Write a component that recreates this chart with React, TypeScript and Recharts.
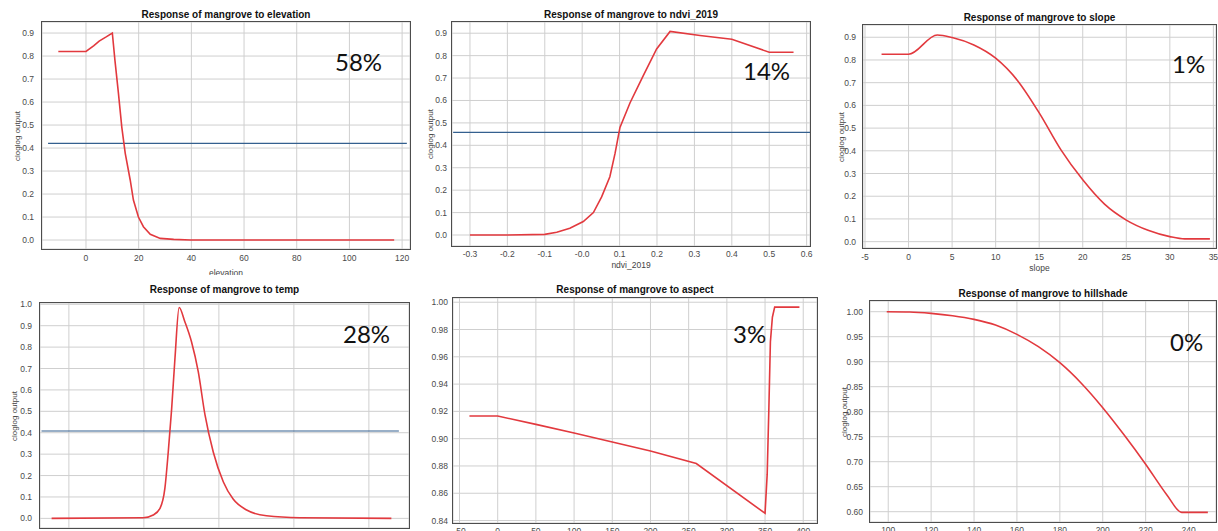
import React from 'react';
import {
  LineChart,
  Line,
  XAxis,
  YAxis,
  CartesianGrid,
  ReferenceLine,
} from 'recharts';

// Response curves (x = predictor, y = cloglog output)
const elevX = [-10.5, 0, 3, 5, 7.5, 10, 11, 12.3, 13.6, 14.9, 16.8, 18, 19.9, 21.8, 24.4, 28.2, 33.3, 39.6, 117];
const elevY = [0.82, 0.82, 0.845, 0.865, 0.882, 0.9, 0.78, 0.64, 0.49, 0.377, 0.26, 0.174, 0.1, 0.058, 0.025, 0.007, 0.003, 0, 0];

const ndviX = [-0.3, -0.2, -0.1, -0.068, -0.033, 0.003, 0.03, 0.052, 0.074, 0.088, 0.101, 0.128, 0.163, 0.199, 0.235, 0.315, 0.4, 0.5, 0.565];
const ndviY = [0, 0, 0.003, 0.012, 0.03, 0.06, 0.1, 0.17, 0.26, 0.365, 0.48, 0.59, 0.71, 0.83, 0.908, 0.89, 0.873, 0.815, 0.815];

const slopeX = [-3.1, 0, 3.3, 5, 7.5, 10, 12.5, 15, 17.5, 20, 22.5, 25, 27.5, 30, 31.7, 34.6];
const slopeY = [0.825, 0.825, 0.91, 0.899, 0.866, 0.808, 0.71, 0.567, 0.404, 0.272, 0.165, 0.095, 0.05, 0.022, 0.012, 0.012];

const tempX = [21.54, 23.98, 24.25, 24.43, 24.56, 24.65, 24.74, 24.83, 24.94, 25.09, 25.27, 25.45, 25.63, 25.85, 26.12, 26.38, 26.74, 27.27, 28.16, 30.6];
const tempY = [0, 0.003, 0.016, 0.047, 0.14, 0.31, 0.51, 0.75, 0.985, 0.92, 0.825, 0.685, 0.483, 0.31, 0.17, 0.09, 0.039, 0.012, 0.003, 0];

const aspectX = [-37, 0, 50, 100, 150, 200, 260, 350, 352.8, 355, 357, 359.6, 362.6, 395];
const aspectY = [0.9166, 0.9166, 0.9105, 0.9042, 0.8976, 0.891, 0.8818, 0.8453, 0.874, 0.9227, 0.971, 0.989, 0.9964, 0.9964];

const hillX = [99.3, 110, 120, 130, 140, 150, 160, 170, 180, 190, 200, 210, 220, 230, 236.8, 249];
const hillY = [1.0, 0.9995, 0.9967, 0.992, 0.9847, 0.9733, 0.9547, 0.93, 0.898, 0.857, 0.808, 0.7533, 0.695, 0.633, 0.5987, 0.5987];

// ticks
const tenthTicks = [0, 0.1, 0.2, 0.3, 0.4, 0.5, 0.6, 0.7, 0.8, 0.9];
const tenthLabels = ['0.0', '0.1', '0.2', '0.3', '0.4', '0.5', '0.6', '0.7', '0.8', '0.9'];
const tempYTicks = [0, 0.1, 0.2, 0.3, 0.4, 0.5, 0.6, 0.7, 0.8, 0.9, 1.0];
const tempYLabels = ['0.0', '0.1', '0.2', '0.3', '0.4', '0.5', '0.6', '0.7', '0.8', '0.9', '1.0'];
const elevTicks = [0, 20, 40, 60, 80, 100, 120];
const elevLabels = ['0', '20', '40', '60', '80', '100', '120'];
const ndviTicks = [-0.3, -0.2, -0.1, 0, 0.1, 0.2, 0.3, 0.4, 0.5, 0.6];
const ndviLabels = ['-0.3', '-0.2', '-0.1', '-0.0', '0.1', '0.2', '0.3', '0.4', '0.5', '0.6'];
const slopeTicks = [-5, 0, 5, 10, 15, 20, 25, 30, 35];
const slopeLabels = ['-5', '0', '5', '10', '15', '20', '25', '30', '35'];
const tempTicks = [22, 24, 26, 28, 30];
const tempLabels = ['22', '24', '26', '28', '30'];
const aspectTicks = [-50, 0, 50, 100, 150, 200, 250, 300, 350, 400];
const aspectLabels = ['-50', '0', '50', '100', '150', '200', '250', '300', '350', '400'];
const aspectYTicks = [0.84, 0.86, 0.88, 0.9, 0.92, 0.94, 0.96, 0.98, 1.0];
const aspectYLabels = ['0.84', '0.86', '0.88', '0.90', '0.92', '0.94', '0.96', '0.98', '1.00'];
const hillTicks = [100, 120, 140, 160, 180, 200, 220, 240];
const hillLabels = ['100', '120', '140', '160', '180', '200', '220', '240'];
const hillYTicks = [0.6, 0.65, 0.7, 0.75, 0.8, 0.85, 0.9, 0.95, 1.0];
const hillYLabels = ['0.60', '0.65', '0.70', '0.75', '0.80', '0.85', '0.90', '0.95', '1.00'];

const RED = '#e2393e';
const BLUE = '#34608f';
const SANS = '"Liberation Sans", Arial, sans-serif';

const PANELS = [
  {
    key: 'elevation', box: [0, 0, 412, 275], plot: [42, 22, 410, 249],
    xDomain: [-16.7, 123], yDomain: [-0.039, 0.948],
    xTicks: elevTicks, xLabels: elevLabels, yTicks: tenthTicks, yLabels: tenthLabels,
    xs: elevX, ys: elevY, curve: 'linear', yGap: 8, xGap: 6,
    titleY: 15, xLabel: 'elevation', xLabelY: 273, yLabelX: 18,
    pct: '58%', pctX: 335, pctY: 63,
    cutoff: { y: 0.42, x1: -14.4, x2: 121.8 },
  },
  {
    key: 'ndvi_2019', box: [412, 0, 408, 275], plot: [452, 22, 810, 246],
    xDomain: [-0.348, 0.609], yDomain: [-0.049, 0.95],
    xTicks: ndviTicks, xLabels: ndviLabels, yTicks: tenthTicks, yLabels: tenthLabels,
    xs: ndviX, ys: ndviY, curve: 'linear', yGap: 5, xGap: 5,
    titleY: 15, xLabel: 'ndvi_2019', xLabelY: 265, yLabelX: 431,
    pct: '14%', pctX: 743, pctY: 72,
    cutoff: { y: 0.458, x1: -0.345, x2: 0.609 },
  },
  {
    key: 'slope', box: [820, 0, 398, 275], plot: [863, 25, 1216, 248],
    xDomain: [-5.23, 35.3], yDomain: [-0.028, 0.954],
    xTicks: slopeTicks, xLabels: slopeLabels, yTicks: tenthTicks, yLabels: tenthLabels,
    xs: slopeX, ys: slopeY, curve: 'monotone', yGap: 7, xGap: 6,
    titleY: 18, xLabel: 'slope', xLabelY: 268, yLabelX: 842,
    pct: '1%', pctX: 1172, pctY: 65,
  },
  {
    key: 'temp', box: [0, 275, 412, 256], plot: [40, 303, 409, 528],
    xDomain: [21.23, 31.07], yDomain: [-0.045, 1.006],
    xTicks: tempTicks, xLabels: tempLabels, yTicks: tempYTicks, yLabels: tempYLabels,
    xs: tempX, ys: tempY, curve: 'monotone', yGap: 8, xGap: 8,
    titleY: 290, yLabelX: 15,
    pct: '28%', pctX: 343, pctY: 335,
    cutoff: { y: 0.408, x1: 21.27, x2: 30.8 },
  },
  {
    key: 'aspect', box: [412, 275, 408, 256], plot: [453, 298, 817, 523],
    xDomain: [-58.5, 418], yDomain: [0.8382, 1.0031],
    xTicks: aspectTicks, xLabels: aspectLabels, yTicks: aspectYTicks, yLabels: aspectYLabels,
    xs: aspectX, ys: aspectY, curve: 'linear', yGap: 5, xGap: 5,
    titleY: 290,
    pct: '3%', pctX: 733, pctY: 335,
  },
  {
    key: 'hillshade', box: [820, 275, 398, 256], plot: [870, 301, 1216, 522],
    xDomain: [91.5, 252.8], yDomain: [0.5794, 1.0214],
    xTicks: hillTicks, xLabels: hillLabels, yTicks: hillYTicks, yLabels: hillYLabels,
    xs: hillX, ys: hillY, curve: 'monotone', yGap: 7, xGap: 5,
    titleY: 294, yLabelX: 845,
    pct: '0%', pctX: 1170, pctY: 343,
  },
];

const tickStyle = { fontSize: 8.5, fill: '#4a4a4a', fontFamily: SANS };

const Panel = ({ p }: { p: any }) => {
  const [cl, ct, cw, ch] = p.box;
  const [x0, y0, x1, y1] = p.plot;
  const YW = 40, MT = 10, MR = 10, XH = 30;
  const data = p.xs.map((x: number, i: number) => ({ x, y: p.ys[i] }));
  const midX = (x0 + x1) / 2 - cl;
  const midY = (y0 + y1) / 2 - ct;

  return (
    <div style={{ position: 'absolute', left: cl, top: ct, width: cw, height: ch, overflow: 'hidden' }}>
      <div style={{ position: 'absolute', left: x0 - YW - cl, top: y0 - MT - ct }}>
        <LineChart
          width={YW + (x1 - x0) + MR}
          height={MT + (y1 - y0) + XH}
          data={data}
          margin={{ top: MT, right: MR, left: 0, bottom: 0 }}
        >
          <CartesianGrid stroke="#cfcfcf" />
          <XAxis
            dataKey="x"
            type="number"
            domain={p.xDomain}
            ticks={p.xTicks}
            interval={0}
            allowDataOverflow
            height={XH}
            tickLine={false}
            axisLine={false}
            tickSize={p.xGap - 2}
            tickMargin={2}
            tick={tickStyle}
            tickFormatter={(_v: number, i: number) => p.xLabels[i]}
          />
          <YAxis
            type="number"
            domain={p.yDomain}
            ticks={p.yTicks}
            interval={0}
            allowDataOverflow
            width={YW}
            tickLine={false}
            axisLine={false}
            tickSize={p.yGap - 2}
            tickMargin={2}
            tick={tickStyle}
            tickFormatter={(_v: number, i: number) => p.yLabels[i]}
          />
          {p.cutoff && (
            <ReferenceLine
              segment={[
                { x: p.cutoff.x1, y: p.cutoff.y },
                { x: p.cutoff.x2, y: p.cutoff.y },
              ]}
              stroke={BLUE}
              strokeWidth={1.2}
            />
          )}
          <Line
            dataKey="y"
            type={p.curve}
            stroke={RED}
            strokeWidth={1.6}
            dot={false}
            isAnimationActive={false}
          />
        </LineChart>
      </div>

      {/* plot frame */}
      <div
        style={{
          position: 'absolute', left: x0 - cl - 1, top: y0 - ct - 1, width: x1 - x0, height: y1 - y0,
          border: '1px solid #4d4d4d', pointerEvents: 'none',
        }}
      />

      <div
        style={{
          position: 'absolute', left: midX, top: p.titleY - ct - 6, transform: 'translateX(-50%)',
          whiteSpace: 'nowrap', font: `bold 10px ${SANS}`, lineHeight: '12px', color: '#111',
        }}
      >
        Response of mangrove to {p.key}
      </div>

      {p.xLabel && (
        <div
          style={{
            position: 'absolute', left: midX, top: p.xLabelY - ct - 5, transform: 'translateX(-50%)',
            whiteSpace: 'nowrap', font: `8.5px ${SANS}`, lineHeight: '10px', color: '#444',
          }}
        >
          {p.xLabel}
        </div>
      )}

      {p.yLabelX !== undefined && (
        <div
          style={{
            position: 'absolute', left: p.yLabelX - cl, top: midY, transform: 'translate(-50%, -50%) rotate(-90deg)',
            whiteSpace: 'nowrap', font: `8px ${SANS}`, lineHeight: '10px', color: '#444',
          }}
        >
          cloglog output
        </div>
      )}

      <div
        style={{
          position: 'absolute', left: p.pctX - cl, top: p.pctY - ct - 12.7,
          whiteSpace: 'nowrap', font: '24px Lato, "Open Sans", sans-serif', lineHeight: '24px', color: '#111',
        }}
      >
        {p.pct}
      </div>
    </div>
  );
};

export default function App() {
  return (
    <div style={{ position: 'relative', width: 1218, height: 531, background: '#fff', overflow: 'hidden' }}>
      <style>{'body{margin:0}'}</style>
      {PANELS.map((p) => (
        <Panel key={p.key} p={p} />
      ))}
    </div>
  );
}
